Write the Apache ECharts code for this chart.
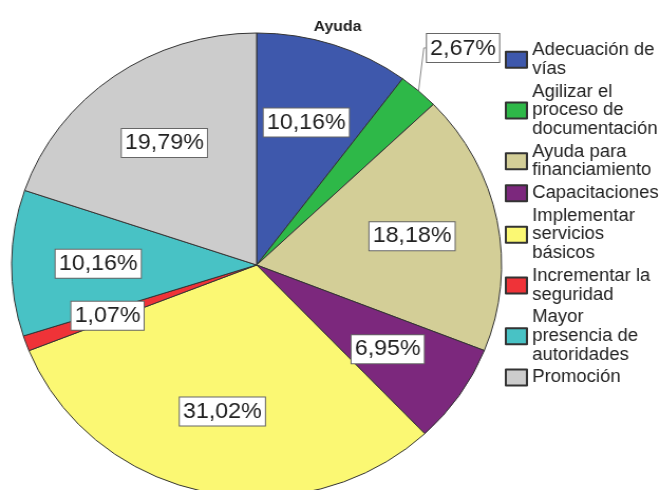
<!DOCTYPE html>
<html>
<head>
<meta charset="utf-8">
<script src="https://cdn.jsdelivr.net/npm/echarts@6.0.0/dist/echarts.min.js"></script>
<style>
html, body { margin: 0; padding: 0; background: #fff; overflow: hidden; }
/* el original viene estirado en horizontal, por eso el scaleX */
#main { width: 627px; height: 490px; transform: scaleX(1.056); transform-origin: 0 0; }
</style>
</head>
<body>
<div id="main"></div>
<script>
// categorias (orden de la leyenda y de los sectores)
var categorias = ['Adecuación de vías', 'Agilizar el proceso de documentación', 'Ayuda para financiamiento',
    'Capacitaciones', 'Implementar servicios básicos', 'Incrementar la seguridad',
    'Mayor presencia de autoridades', 'Promoción'];
// texto de la leyenda en varias lineas
var leyendaTexto = ['Adecuación de\nvías', 'Agilizar el\nproceso de\ndocumentación', 'Ayuda para\nfinanciamiento',
    'Capacitaciones', 'Implementar\nservicios\nbásicos', 'Incrementar la\nseguridad',
    'Mayor\npresencia de\nautoridades', 'Promoción'];
// porcentajes
var porcentajes = [10.16, 2.67, 18.18, 6.95, 31.02, 1.07, 10.16, 19.79];
var colores = ['#3e58ac', '#2eb848', '#d3ce97', '#7c287d', '#fbf873', '#ef3338', '#48c2c5', '#cccccc'];
// esta etiqueta va fuera del sector
var etiquetaFuera = 'Agilizar el proceso de documentación';

function fmt(v) {
    return v.toFixed(2).replace('.', ',') + '%';
}

var cajaEtiqueta = {
    fontFamily: 'Liberation Sans, Arial',
    fontSize: 22,
    color: '#222',
    backgroundColor: '#fff',
    borderColor: '#666',
    borderWidth: 1,
    padding: [4, 3, 2, 3]
};

var datosPie = [];
var datosEtiquetas = [];
for (var i = 0; i < categorias.length; i++) {
    var fuera = categorias[i] === etiquetaFuera;
    datosPie.push({
        name: categorias[i],
        value: porcentajes[i],
        itemStyle: { color: colores[i] },
        label: { show: fuera },
        labelLine: { show: fuera }
    });
    datosEtiquetas.push({
        name: categorias[i],
        value: porcentajes[i],
        label: { show: !fuera }
    });
}

var chart = echarts.init(document.getElementById('main'));
var option = {
    animation: false,
    title: {
        text: 'Ayuda',
        left: 292,
        top: 14,
        textStyle: { fontFamily: 'Liberation Sans, Arial', fontSize: 15, fontWeight: 'bold', color: '#222' }
    },
    legend: {
        orient: 'vertical',
        left: 473,
        top: 36,
        itemWidth: 20,
        itemHeight: 16,
        itemGap: 4,
        icon: 'rect',
        selectedMode: false,
        data: categorias,
        formatter: function (name) {
            return leyendaTexto[categorias.indexOf(name)];
        },
        textStyle: { fontFamily: 'Liberation Sans, Arial', fontSize: 17.5, lineHeight: 18.7, color: '#222' }
    },
    series: [{
        name: 'Ayuda',
        type: 'pie',
        center: [243, 265],
        radius: 232,
        startAngle: 90,
        clockwise: true,
        silent: true,
        itemStyle: { borderColor: '#333', borderWidth: 1 },
        label: Object.assign({
            position: 'outside',
            distanceToLabelLine: 0,
            formatter: function (p) { return fmt(p.value); }
        }, cajaEtiqueta),
        labelLine: { length: 12, length2: 2, lineStyle: { color: '#888', width: 1 } },
        // subir la caja por encima del sector, como en el original
        labelLayout: function (p) {
            return {
                x: p.labelRect.x - 1,
                y: p.labelRect.y - 33,
                align: 'left',
                verticalAlign: 'top'
            };
        },
        data: datosPie
    }, {
        // serie transparente solo para colocar las etiquetas interiores
        name: 'etiquetas',
        type: 'pie',
        center: [243, 265],
        radius: [0, 294],
        startAngle: 90,
        clockwise: true,
        silent: true,
        legendHoverLink: false,
        itemStyle: { color: 'rgba(0,0,0,0)', borderWidth: 0 },
        label: Object.assign({
            position: 'inside',
            formatter: function (p) { return fmt(p.value); }
        }, cajaEtiqueta),
        labelLine: { show: false },
        data: datosEtiquetas
    }]
};
chart.setOption(option);
</script>
</body>
</html>
